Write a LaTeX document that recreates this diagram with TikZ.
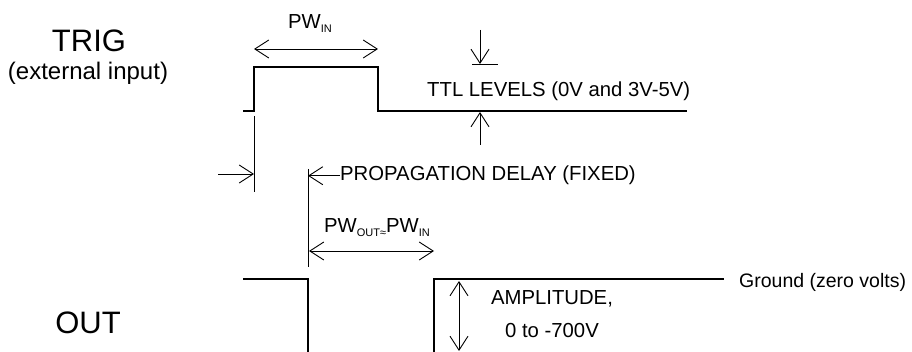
\documentclass[tikz,border=0pt]{standalone}
\usepackage{fontspec}
\setmainfont{Liberation Sans}
\usetikzlibrary{arrows.meta,positioning}

\newcommand{\lowidx}[1]{\raisebox{-4pt}{\fontsize{11}{13}\selectfont #1}}

\tikzset{
    wave/.style={line width=2pt},
    guide/.style={line width=0.9pt},
    onearrow/.style={guide, -{Straight Barb[length=14pt,width=18pt]}},
    twoarrow/.style={guide, {Straight Barb[length=14pt,width=18pt]}-{Straight Barb[length=14pt,width=18pt]}},
    lbl/.style={inner sep=0pt, font=\fontsize{20.3}{24}\selectfont},
    biglbl/.style={inner sep=0pt, font=\fontsize{31}{36}\selectfont},
}

\begin{document}
\begin{tikzpicture}[x=1pt,y=-1pt]
    \useasboundingbox (0,0) rectangle (912,352);

    % input pulse
    \coordinate (t0) at (243,111);
    \coordinate[right=11pt of t0] (t1);
    \coordinate[above=44pt of t1] (t2);
    \coordinate[right=124pt of t2] (t3);
    \coordinate[below=44pt of t3] (t4);
    \coordinate[right=309pt of t4] (t5);
    \draw[wave] (t0) -- (t1) -- (t2) -- (t3) -- (t4) -- (t5);

    % output pulse
    \coordinate (o0) at (243,279);
    \coordinate[right=65pt of o0] (o1);
    \coordinate[below=77pt of o1] (o2);
    \coordinate[right=126pt of o2] (o3);
    \coordinate[above=77pt of o3] (o4);
    \coordinate[right=290pt of o4] (o5);
    \draw[wave] (o0) -- (o1) -- (o2);
    \draw[wave] (o3) -- (o4) -- (o5);

    % titles
    \node[biglbl, anchor=base] (trig) at (89,52) {TRIG};
    \node[lbl, anchor=base, font=\fontsize{24}{28}\selectfont] (ext) at (88,80) {(external input)};
    \node[biglbl, anchor=base] (out) at (88,334) {OUT};

    % input width
    \draw[twoarrow] ([yshift=18pt]t2) -- ([yshift=18pt]t3);
    \node[lbl, anchor=base west] (pwin) at (288,29) {PW\lowidx{IN}};

    % levels
    \coordinate (lv1) at (480,30);
    \coordinate (lv2) at (480,64);
    \coordinate (lv3) at (480,145);
    \coordinate (lv4) at (480,112);
    \draw[onearrow] (lv1) -- (lv2);
    \draw[guide] ([xshift=-8pt]lv2) -- ([xshift=18pt]lv2);
    \draw[onearrow] (lv3) -- (lv4);
    \node[lbl, anchor=base west] (ttl) at (427,97) {TTL LEVELS (0V and 3V-5V)};

    % delay
    \coordinate (d1a) at (254,116);
    \coordinate (d1b) at (254,192);
    \coordinate (d2a) at (308,169);
    \coordinate (d2b) at (308,267);
    \draw[guide] (d1a) -- (d1b);
    \draw[guide] (d2a) -- (d2b);
    \node[lbl, anchor=base west] (delay) at (340,181) {PROPAGATION DELAY (FIXED)};
    \coordinate (dl) at (218,174);
    \draw[onearrow] (dl) -- (dl -| d1a);
    \draw[onearrow] (delay.west) -- (delay.west -| d2a);

    % output width
    \coordinate (pwo1) at (309,251);
    \coordinate (pwo2) at (434,251);
    \draw[twoarrow] (pwo1) -- (pwo2);
    \node[lbl, anchor=base west] (pwout) at (324,233) {PW\lowidx{OUT≈}PW\lowidx{IN}};

    % amplitude
    \coordinate (am1) at (459,281);
    \coordinate (am2) at (459,351);
    \draw[twoarrow] (am1) -- (am2);
    \node[lbl, anchor=base] (amp) at (552,305) {AMPLITUDE,};
    \node[lbl, anchor=base] (amprange) at ([yshift=-32pt]amp.base) {0 to -700V};

    \node[lbl, anchor=base west, font=\fontsize{19.5}{23}\selectfont] (gnd) at (739,288) {Ground (zero volts)};
\end{tikzpicture}
\end{document}
